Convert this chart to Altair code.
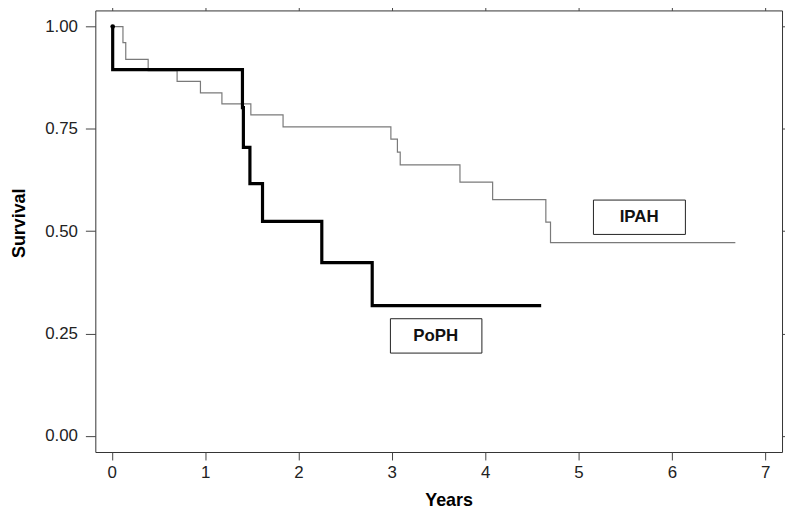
import altair as alt
import pandas as pd

# Kaplan-Meier steps
poph_t = [0.01, 0.01, 1.40, 1.41, 1.48, 1.615, 2.25, 2.79, 4.60]
poph_s = [1.0, 0.895, 0.802, 0.705, 0.616, 0.524, 0.423, 0.318, 0.318]

ipah_t = [0.01, 0.12, 0.15, 0.39, 0.70, 0.95, 1.18, 1.49, 1.835, 2.99, 3.06, 3.09,
          3.73, 4.08, 4.65, 4.70, 6.68]
ipah_s = [1.0, 0.961, 0.920, 0.892, 0.866, 0.838, 0.811, 0.784, 0.755, 0.725, 0.693,
          0.662, 0.620, 0.577, 0.522, 0.472, 0.472]

label_text = ["IPAH", "PoPH"]
label_x = [5.65, 3.47]
label_y = [0.534, 0.244]
box_x0 = [5.16, 2.985]
box_x1 = [6.145, 3.965]
box_y0 = [0.492, 0.202]
box_y1 = [0.576, 0.286]

x_ticks = [0, 1, 2, 3, 4, 5, 6, 7]
y_ticks = [0.0, 0.25, 0.5, 0.75, 1.0]

X_DOM = [-0.176, 7.18]
Y_DOM = [-0.0398, 1.0395]

poph = pd.DataFrame({"t": poph_t, "s": poph_s})
ipah = pd.DataFrame({"t": ipah_t, "s": ipah_s})
labels = pd.DataFrame({"text": label_text, "x": label_x, "y": label_y,
                       "x0": box_x0, "x1": box_x1, "y0": box_y0, "y1": box_y1})
start = poph.iloc[[0]]

xs = alt.Scale(domain=X_DOM, nice=False, zero=False)
ys = alt.Scale(domain=Y_DOM, nice=False, zero=False)

x_axis = alt.Axis(values=x_ticks, format="d", title="Years", orient="bottom",
                  tickSize=8, labelPadding=5, titleX=356, titleY=54,
                  titleAlign="center", titleBaseline="alphabetic")
y_axis = alt.Axis(values=y_ticks, format=".2f", title="Survival", orient="left",
                  tickSize=10, labelPadding=8, titleX=-76, titleY=214,
                  titleAngle=270, titleAlign="center", titleBaseline="middle")

ipah_line = alt.Chart(ipah).mark_line(interpolate="step-after", color="#7a7a7a",
                                      strokeWidth=1.2).encode(
    x=alt.X("t:Q", scale=xs, axis=x_axis),
    y=alt.Y("s:Q", scale=ys, axis=y_axis),
)
poph_line = alt.Chart(poph).mark_line(interpolate="step-after", color="black",
                                      strokeWidth=3.2).encode(
    x=alt.X("t:Q", scale=xs), y=alt.Y("s:Q", scale=ys))
start_pt = alt.Chart(start).mark_circle(color="black", size=22, opacity=1).encode(
    x=alt.X("t:Q", scale=xs), y=alt.Y("s:Q", scale=ys))
boxes = alt.Chart(labels).mark_rect(fill="white", stroke="#222", strokeWidth=1).encode(
    x=alt.X("x0:Q", scale=xs), x2="x1:Q",
    y=alt.Y("y0:Q", scale=ys), y2="y1:Q")
texts = alt.Chart(labels).mark_text(font="Liberation Sans", fontWeight="bold",
                                    fontSize=17, color="#111").encode(
    x=alt.X("x:Q", scale=xs), y=alt.Y("y:Q", scale=ys), text="text:N")

main = alt.layer(ipah_line, poph_line, start_pt, boxes, texts)

dummy = alt.Chart(start).mark_point(opacity=0).encode(
    x=alt.X("t:Q", scale=alt.Scale(domain=X_DOM, nice=False, zero=False),
            axis=alt.Axis(values=x_ticks, orient="top", labels=False, title=None,
                          tickSize=10)),
    y=alt.Y("s:Q", scale=alt.Scale(domain=Y_DOM, nice=False, zero=False),
            axis=alt.Axis(values=y_ticks, orient="right", labels=False, title=None,
                          tickSize=10)),
)

chart = alt.layer(main, dummy).resolve_scale(x="independent", y="independent").properties(
    width=692, height=445,
    autosize=alt.AutoSizeParams(type="none"),
    padding={"left": 88, "top": 0.5, "right": 3, "bottom": 59},
).configure_view(
    stroke="#333", strokeWidth=1
).configure_axis(
    domain=False, grid=False, tickColor="#444", tickWidth=1,
    labelFont="Liberation Sans", labelFontSize=17, labelColor="#222",
    titleFont="Liberation Sans", titleFontSize=18, titleFontWeight="bold",
    titleColor="black",
)

chart.save("out.html", embed_options={"renderer": "svg", "actions": False})
